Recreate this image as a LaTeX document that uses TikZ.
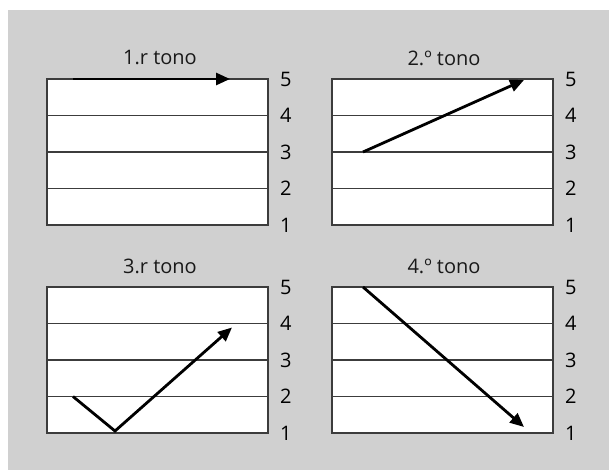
\documentclass[tikz,border=0pt]{standalone}
\usepackage{fontspec}
\setmainfont{Open Sans}
\usetikzlibrary{arrows.meta,positioning,calc}
\definecolor{panelgrey}{HTML}{D0D0D0}
\definecolor{rulegrey}{HTML}{3C3C3C}
\tikzset{
	tonebox/.style={draw=rulegrey, line width=1.6pt, fill=white},
	toneline/.style={draw=rulegrey, line width=1.4pt},
	tonearrow/.style={line width=2.8pt, line join=miter, -{Triangle[length=14pt,width=12pt]}},
	level/.style={font=\fontsize{20}{20}\selectfont, text=black, anchor=west, inner sep=0pt},
	title/.style={font=\fontsize{20}{20}\selectfont, text=black!90, inner sep=0pt}
}
\begin{document}
\begin{tikzpicture}[x=1pt,y=-1pt]
	\useasboundingbox (0,0) rectangle (609,470);
	\fill[panelgrey] (8,10) rectangle (609,470);
	% four panels: left edge, top edge, name
	\foreach \ox/\oy/\p in {47/79/a,332/79/b,47/287/c,332/287/d}{
		\draw[tonebox] (\ox,\oy) rectangle (\ox+221,\oy+146);
		\foreach \k in {1,...,5}{
			\coordinate (\p\k) at (\ox,\oy+146-36.5*\k+36.5);
			\node[level] (\p lab\k) at (\ox+233,\oy+146-36.5*\k+36.5) {\k};
		}
		\foreach \k in {2,3,4}
			\draw[toneline] (\p\k) -- ++(221,0);
	}
	\node[title] (ta) at (160,58) {1.r tono};
	\node[title] (tb) at (444,58) {2.º tono};
	\node[title] (tc) at (160,266) {3.r tono};
	\node[title] (td) at (444,266) {4.º tono};
	% tone contours
	\coordinate (s1) at ($(a5)+(26,0)$);  \coordinate (e1) at ($(a5)+(183,0)$);
	\coordinate (s2) at ($(b3)+(31,0)$);  \coordinate (e2) at ($(b5)+(192,1)$);
	\coordinate (s3) at ($(c2)+(26,0)$);  \coordinate (m3) at ($(c1)+(68,-2)$);
	\coordinate (e3) at ($(c4)+(185,4)$);
	\coordinate (s4) at ($(d5)+(31,0)$);  \coordinate (e4) at ($(d1)+(192,-6)$);
	\draw[tonearrow] (s1) -- (e1);
	\draw[tonearrow] (s2) -- (e2);
	\draw[tonearrow] (s3) -- (m3) -- (e3);
	\draw[tonearrow] (s4) -- (e4);
\end{tikzpicture}
\end{document}
